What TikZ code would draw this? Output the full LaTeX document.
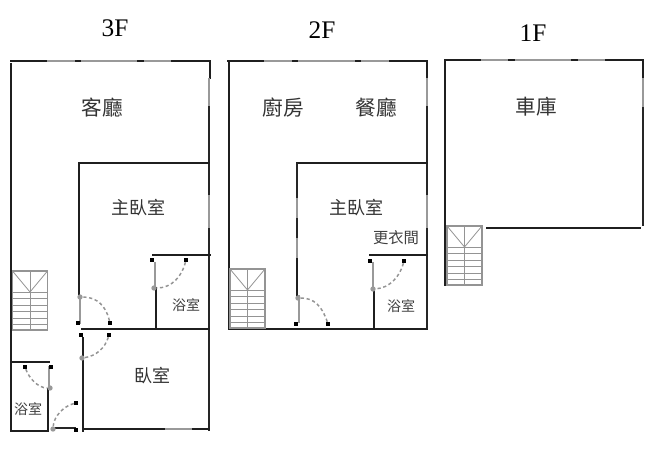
\documentclass[tikz,border=0pt]{standalone}
\usepackage{fontspec}
\setmainfont{Liberation Serif}
\newfontfamily\cjk{Noto Sans CJK TC}
\tikzset{
  wall/.style={line width=1.9pt,draw=black!88,line cap=rect},
  thin wall/.style={line width=1.4pt,draw=black!85},
  win/.style={line width=1.8pt,draw=black!40},
  door/.style={line width=1.1pt,draw=black!42,dash pattern=on 2.4pt off 2pt},
  stair/.style={line width=0.6pt,draw=black!42},
  pin/.style={fill=black,inner sep=0pt,minimum size=3pt,draw=none,shape=rectangle},
  hinge/.style={fill=black!40,inner sep=0pt,minimum size=4pt,draw=none,shape=circle},
  room/.style={font=\cjk\fontsize{15.5}{16}\selectfont,text=black!80,inner sep=0pt},
  mid room/.style={font=\cjk\fontsize{13.5}{14}\selectfont,text=black!80,inner sep=0pt},
  small room/.style={font=\cjk\fontsize{10.5}{11}\selectfont,text=black!75,inner sep=0pt},
  floor/.style={font=\fontsize{19}{21}\selectfont,text=black,inner sep=0pt},
}
\newcommand{\stairs}[2]{% upper-left x, y (pixel)
  \begin{scope}[shift={(#1,#2)}]
    \draw[stair,line width=0.9pt] (0,0) rectangle (35,59);
    \draw[stair] (17.5,0) -- (17.5,59);
    \draw[stair] (0,0) -- (17.5,21) -- (35,0);
    \foreach \y in {21,27.5,34,40.5,47,53} \draw[stair] (0,\y) -- (35,\y);
  \end{scope}}
\begin{document}
\begin{tikzpicture}[x=0.75pt,y=-0.75pt]
\useasboundingbox[fill=white] (0,0) rectangle (655,458);
% text
\node[floor] (f3) at (115,28) {3F};
\node[floor] (f2) at (322,30) {2F};
\node[floor] (f1) at (533,33) {1F};
\node[room] (r1) at (102,108) {客廳};
\node[mid room] (r2) at (138,208) {主臥室};
\node[small room] (r3) at (186,305) {浴室};
\node[mid room] (r4) at (152,376) {臥室};
\node[small room] (r5) at (28,409) {浴室};
\node[room] (r6) at (283,108) {廚房};
\node[room] (r7) at (376,108) {餐廳};
\node[mid room] (r8) at (356,208) {主臥室};
\node[font=\cjk\fontsize{11.5}{12}\selectfont,text=black!75,inner sep=0pt] (r9) at (396,238) {更衣間};
\node[small room] (r10) at (401,306) {浴室};
\node[room] (r11) at (536,107) {車庫};

% ---- 3F ----
\draw[wall] (11,61) -- (47,61);
\draw[win] (47,61) -- (76,61);
\draw[wall] (76,61) -- (81,61);
\draw[win] (81,61) -- (138,61);
\draw[wall] (138,61) -- (144,61);
\draw[win] (144,61) -- (172,61);
\draw[wall] (172,61) -- (210,61);
\draw[wall] (11,64) -- (11,431) -- (48,431);
\draw[wall] (210,61) -- (210,78);
\draw[win] (209,78) -- (209,106);
\draw[thin wall] (209,106) -- (209,195);
\draw[win] (209,195) -- (209,228);
\draw[thin wall] (209,228) -- (209,431);
\draw[wall] (79,163) -- (209,163);
\draw[wall] (79,163) -- (79,295);
\draw[win] (80,295) -- (80,324);
\draw[wall] (82,329) -- (209,329);
\draw[wall] (153,255) -- (210,255);
\draw[win] (155,262) -- (155,288);
\draw[wall] (156,288) -- (156,329);
\draw[wall] (83,338) -- (83,431);
\draw[wall] (85,429) -- (165,429);
\draw[win] (165,429) -- (193,429);
\draw[wall] (193,429) -- (209,429);
\draw[wall] (11,362) -- (49,362);
\draw[win] (49,366) -- (49,389);
\draw[wall] (48,389) -- (48,431);
\draw[thin wall] (53,428) -- (76,428);
% doors 3F
\node[pin] (p1) at (152,260) {};
\node[pin] (p2) at (186,260) {};
\node[pin] (p3) at (78,323) {};
\node[pin] (p4) at (110,323) {};
\node[pin] (p5) at (81,335) {};
\node[pin] (p6) at (109,335) {};
\node[pin] (p7) at (25,367) {};
\node[pin] (p8) at (51,367) {};
\node[pin] (p9) at (76,403) {};
\node[pin] (p10) at (76,430) {};
\node[hinge] (h1) at (154,288) {};
\node[hinge] (h2) at (80,297) {};
\node[hinge] (h3) at (82,358) {};
\node[hinge] (h4) at (50,388) {};
\node[hinge] (h5) at (53,429) {};
\draw[door] (p2) .. controls (182,276) and (172,288) .. (h1);
\draw[door] (p4) .. controls (106,306) and (97,297) .. (h2);
\draw[door] (p6) .. controls (105,348) and (96,356) .. (h3);
\draw[door] (p7) .. controls (29,378) and (38,388) .. (h4);
\draw[door] (p9) .. controls (64,406) and (54,416) .. (h5);
\stairs{12.5}{271}

% ---- 2F ----
\draw[wall] (228,61) -- (264,61);
\draw[win] (264,61) -- (293,61);
\draw[wall] (293,61) -- (298,61);
\draw[win] (298,61) -- (356,61);
\draw[wall] (356,61) -- (361,61);
\draw[win] (361,61) -- (390,61);
\draw[wall] (390,61) -- (427,61);
\draw[wall] (229,61) -- (229,329) -- (427,329);
\draw[wall] (427,61) -- (427,78);
\draw[win] (427,78) -- (427,106);
\draw[thin wall] (427,106) -- (427,195);
\draw[win] (427,195) -- (427,228);
\draw[thin wall] (427,228) -- (427,329);
\draw[wall] (297,163) -- (427,163);
\draw[thin wall] (297,163) -- (297,198);
\draw[win] (297,198) -- (297,218);
\draw[thin wall] (297,218) -- (297,238);
\draw[win] (297,238) -- (297,259);
\draw[wall] (297,259) -- (297,295);
\draw[win] (299,295) -- (299,323);
\draw[wall,dash pattern=on 14pt off 2pt on 6pt off 2pt] (370,255) -- (427,255);
\draw[win] (373,262) -- (373,288);
\draw[wall] (374,288) -- (374,329);
\node[pin] (q1) at (370,261) {};
\node[pin] (q2) at (404,261) {};
\node[pin] (q3) at (296,324) {};
\node[pin] (q4) at (328,324) {};
\node[hinge] (k1) at (373,289) {};
\node[hinge] (k2) at (298,298) {};
\draw[door] (q2) .. controls (400,276) and (390,288) .. (k1);
\draw[door] (q4) .. controls (322,306) and (314,298) .. (k2);
\stairs{230}{269}

% ---- 1F ----
\draw[wall] (445,60) -- (481,60);
\draw[win] (481,60) -- (509,60);
\draw[wall] (509,60) -- (515,60);
\draw[win] (515,60) -- (572,60);
\draw[wall] (572,60) -- (578,60);
\draw[win] (578,60) -- (606,60);
\draw[wall] (606,60) -- (643,60);
\draw[wall] (445,60) -- (445,285);
\draw[wall] (643,60) -- (643,78);
\draw[win] (643,78) -- (643,107);
\draw[thin wall] (643,107) -- (643,226);
\draw[wall] (487,228) -- (640,228);
\stairs{447}{226}
\end{tikzpicture}
\end{document}
